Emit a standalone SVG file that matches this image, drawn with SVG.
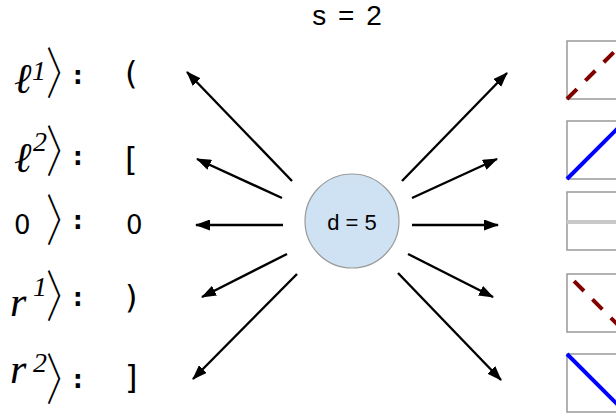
<svg xmlns="http://www.w3.org/2000/svg" width="616" height="417" viewBox="0 0 616 417">
<defs>
<marker id="ah" viewBox="0 0 15 11" refX="14" refY="5.5" markerWidth="15" markerHeight="11" markerUnits="userSpaceOnUse" orient="auto">
<path d="M0,0 L15,5.5 L0,11 z" fill="#000"/>
</marker>
<style>
.ar{stroke:#000;stroke-width:2.4;fill:none;marker-end:url(#ah)}
.m{font-family:"Liberation Serif",serif;font-style:italic;font-size:42px;fill:#000}
.sup{font-family:"Liberation Serif",serif;font-style:italic;font-size:28px;fill:#000}
.br{font-family:"Noto Sans CJK JP",sans-serif;font-weight:300;font-size:30px;letter-spacing:-18px;fill:#000}
.col{font-family:"DejaVu Sans",sans-serif;font-weight:bold;font-size:24px;fill:#000}
.dig{font-family:"DejaVu Sans",sans-serif;font-size:26px;fill:#000}
.sym{font-family:"DejaVu Sans",sans-serif;font-size:32px;fill:#000}
.box{fill:#fff;stroke:#999;stroke-width:1.5}
</style>
</defs>
<rect width="616" height="417" fill="#fff"/>
<text x="347" y="25" text-anchor="middle" font-family="Liberation Sans, sans-serif" font-size="28" word-spacing="4">s = 2</text>

<g id="label-l1">
<text class="m" x="14" y="93">ℓ</text>
<text class="sup" x="32" y="80">1</text>
<text class="br" transform="translate(46,74) scale(1.2,1.85)" y="11">〉</text>
<text class="col" x="73" y="84">:</text>
<text class="sym" x="125" y="84">(</text>
</g>
<g id="label-l2">
<text class="m" x="14" y="172">ℓ</text>
<text class="sup" x="33" y="151">2</text>
<text class="br" transform="translate(46,152) scale(1.2,1.85)" y="11">〉</text>
<text class="col" x="73" y="165">:</text>
<text class="sym" x="125" y="170">[</text>
</g>
<g id="label-0">
<text class="dig" x="14" y="234">0</text>
<text class="br" transform="translate(46,221) scale(1.2,1.85)" y="11">〉</text>
<text class="col" x="73" y="229">:</text>
<text class="dig" x="126" y="234">0</text>
</g>
<g id="label-r1">
<text class="m" x="10" y="316">r</text>
<text class="sup" x="33" y="296">1</text>
<text class="br" transform="translate(46,297) scale(1.2,1.85)" y="11">〉</text>
<text class="col" x="73" y="306">:</text>
<text class="sym" x="125" y="308">)</text>
</g>
<g id="label-r2">
<text class="m" x="10" y="383">r</text>
<text class="sup" x="33" y="372">2</text>
<text class="br" transform="translate(46,380) scale(1.2,1.85)" y="11">〉</text>
<text class="col" x="73" y="388">:</text>
<text class="sym" x="125" y="388">]</text>
</g>

<g id="center">
<circle cx="352" cy="221" r="47" fill="#cfe2f3" stroke="#999" stroke-width="1.2"/>
<text x="352" y="230" text-anchor="middle" font-family="Liberation Sans, sans-serif" font-size="22">d = 5</text>
</g>

<g id="connectors">
<line class="ar" x1="292" y1="181" x2="187" y2="72"/>
<line class="ar" x1="282" y1="198" x2="197" y2="159"/>
<line class="ar" x1="283" y1="225" x2="196" y2="225"/>
<line class="ar" x1="287" y1="254" x2="202" y2="297"/>
<line class="ar" x1="297" y1="274" x2="193" y2="379"/>
<line class="ar" x1="402" y1="181" x2="507" y2="73"/>
<line class="ar" x1="412" y1="198" x2="497" y2="159"/>
<line class="ar" x1="412" y1="225" x2="498" y2="225"/>
<line class="ar" x1="408" y1="254" x2="493" y2="297"/>
<line class="ar" x1="398" y1="273" x2="501" y2="380"/>
</g>

<g id="box1">
<rect class="box" x="567" y="41" width="58" height="58"/>
<line x1="567" y1="99" x2="625" y2="41" stroke="#800000" stroke-width="4" stroke-dasharray="14 12"/>
</g>
<g id="box2">
<rect class="box" x="567" y="121" width="58" height="58"/>
<line x1="567" y1="179" x2="625" y2="121" stroke="#0000ff" stroke-width="4"/>
</g>
<g id="box3">
<rect class="box" x="567" y="192" width="58" height="58"/>
<line x1="567" y1="222" x2="625" y2="222" stroke="#c8c8c8" stroke-width="4"/>
</g>
<g id="box4">
<rect class="box" x="567" y="274" width="58" height="58"/>
<line x1="567" y1="274" x2="625" y2="332" stroke="#800000" stroke-width="4" stroke-dasharray="14 12" stroke-dashoffset="16"/>
</g>
<g id="box5">
<rect class="box" x="567" y="354" width="58" height="58"/>
<line x1="567" y1="354" x2="625" y2="412" stroke="#0000ff" stroke-width="4"/>
</g>
</svg>
